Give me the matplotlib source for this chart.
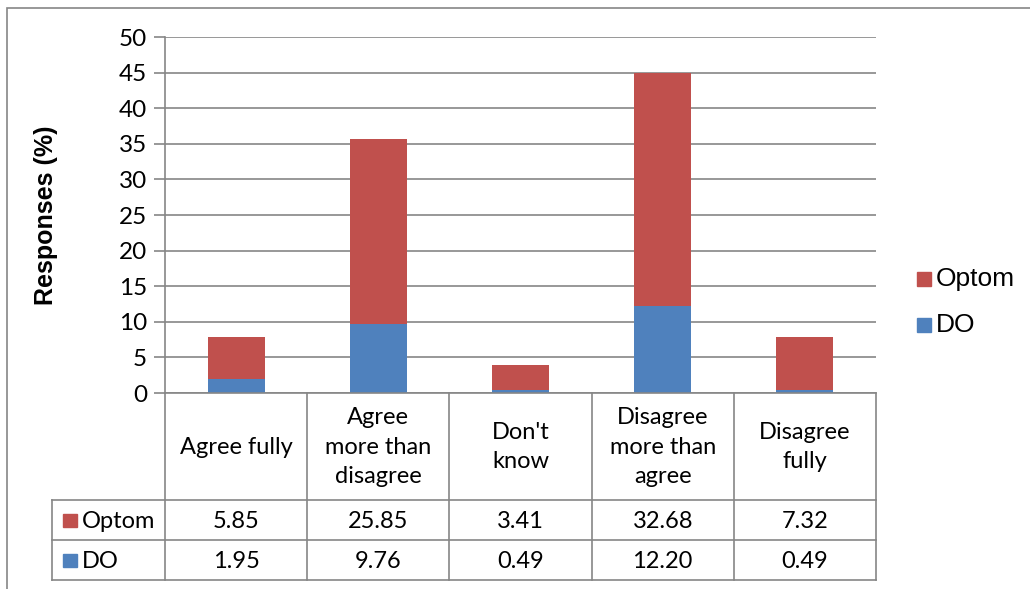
import matplotlib
matplotlib.use("Agg")
import matplotlib.pyplot as plt
from matplotlib.patches import Rectangle

categories = ["Agree fully", "Agree\nmore than\ndisagree", "Don't\nknow",
              "Disagree\nmore than\nagree", "Disagree\nfully"]
do_vals = [1.95, 9.76, 0.49, 12.20, 0.49]
optom_vals = [5.85, 25.85, 3.41, 32.68, 7.32]
series_names = ["Optom", "DO"]
yticks = list(range(0, 51, 5))

RED = "#C0504D"
BLUE = "#4F81BD"
GRID = "#868686"
W, H = 1030, 589

fig = plt.figure(figsize=(W / 100, H / 100), dpi=100)


def px_box(x0, y0, x1, y1):
    # pixel box (top-left origin) -> figure fraction rect
    return [x0 / W, 1 - y1 / H, (x1 - x0) / W, (y1 - y0) / H]


# chart border
fig.patches.append(Rectangle((7 / W, -0.1), 1.2, 1 - 8 / H + 0.1,
                             transform=fig.transFigure, fill=False,
                             edgecolor=GRID, linewidth=1.2))

ax = fig.add_axes(px_box(165, 37, 876, 393))
x = list(range(len(categories)))
ax.bar(x, do_vals, width=0.4, color=BLUE, zorder=3)
ax.bar(x, optom_vals, width=0.4, bottom=do_vals, color=RED, zorder=3)
ax.set_xlim(-0.5, 4.5)
ax.set_ylim(0, 50)
ax.set_yticks(yticks)
ax.set_xticks([])
ax.yaxis.grid(True, color=GRID, linewidth=1.2)
ax.set_axisbelow(True)
for s in ["top", "right", "bottom"]:
    ax.spines[s].set_visible(False)
ax.spines["left"].set_color(GRID)
ax.spines["left"].set_linewidth(1.2)
ax.tick_params(axis="y", direction="out", length=8, width=1.2, color=GRID,
               labelsize=17.5, pad=5)
for lbl in ax.get_yticklabels():
    lbl.set_fontfamily("Lato")
ax.set_ylabel("Responses (%)", fontsize=18, fontweight="bold",
              family="Liberation Sans")
ax.yaxis.set_label_coords((58 - 165) / 711, 0.5)

# data table underneath the plot
tab = fig.add_axes(px_box(52, 393, 876, 580))
left = -0.5 - 113 / 142.2
tab.set_xlim(left, 4.5)
tab.set_ylim(187, 0)
tab.axis("off")
lkw = dict(color=GRID, linewidth=1.2, clip_on=False)
for xb in [-0.5 + i for i in range(6)]:
    tab.plot([xb, xb], [0, 187], **lkw)
tab.plot([left, left], [107, 187], **lkw)
tab.plot([-0.5, 4.5], [0, 0], **lkw)
for yb in [107, 147, 187]:
    tab.plot([left, 4.5], [yb, yb], **lkw)

tfont = dict(family="Lato", fontsize=17, ha="center", va="center")
for i, cat in enumerate(categories):
    tab.text(i, 54, cat, linespacing=1.5, **tfont)
rows = [(optom_vals, RED, 127), (do_vals, BLUE, 167)]
for (vals, col, yc), name in zip(rows, series_names):
    for i, v in enumerate(vals):
        tab.text(i, yc + 1, f"{v:.2f}", **tfont)
    tab.add_patch(Rectangle((left + 0.075, yc - 6), 0.1, 13, color=col,
                            clip_on=False, transform=tab.transData))
    tab.text(left + 0.21, yc + 1, name, family="Lato", fontsize=17,
             ha="left", va="center")

# legend on the right
for (name, col, yc) in [("Optom", RED, 279), ("DO", BLUE, 325)]:
    fig.patches.append(Rectangle((917 / W, 1 - (yc + 7) / H), 14 / W, 14 / H,
                                 transform=fig.transFigure, color=col))
    fig.text(936 / W, 1 - yc / H, name, family="Liberation Sans",
             fontsize=19, ha="left", va="center")

fig.savefig("out.png", dpi=100)
